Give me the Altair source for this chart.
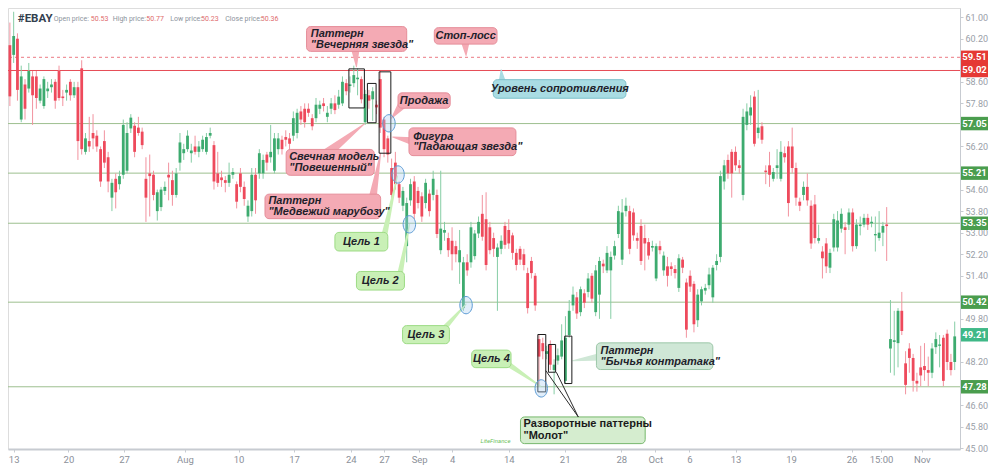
import json
import altair as alt
import pandas as pd

# ---------------- candle data (index, open, high, low, close) ----------------
O = [59.96, 59.6, 60.2, 57.2, 58.5, 58.35, 58.8, 58.8, 57.9, 57.7,
     58.25, 58.4, 58.6, 59.0, 58.05, 58.2, 58.6, 58.1, 58.4, 59.1,
     56.0, 56.4, 56.7, 56.6, 56.1, 56.4, 55.8, 54.3, 55.0, 54.8,
     55.15, 55.3,
     56.87, 56.97, 56.9, 56.75, 55.0, 55.2, 55.15, 53.8,
     53.95, 54.55, 55.15, 54.95, 54.4, 55.6, 55.95, 56.1, 55.95, 56.2,
     56.0, 56.1, 56.0, 56.6, 56.25, 55.2, 55.05, 54.95, 54.85, 55.15,
     54.8, 55.2, 54.7, 53.6, 53.8,
     55.15, 55.2, 55.2, 55.9, 55.8,
     55.3, 56.1, 56.45, 56.55, 56.5, 56.6, 56.7, 57.5, 57.6, 57.6,
     57.25, 57.25, 57.6, 57.8, 57.3, 57.6, 57.8, 57.75, 57.8, 58.55,
     58.45, 58.55, 58.7, 58.7, 57.1, 58.1, 57.95, 57.75, 58.7, 57.2,
     56.5, 55.4, 55.6, 54.8, 54.0, 52.5, 54.2, 54.9, 54.55, 54.35,
     54.1, 54.45, 54.4, 54.4, 52.35, 53.0, 52.8, 52.7, 52.5, 51.9,
     50.2, 51.9, 51.9, 52.13, 52.97, 53.7, 53.5, 53.2, 52.8, 52.1,
     52.4, 53.25, 53.1, 52.9, 52.25, 52.4, 52.2, 51.5, 51.95, 51.4,
     49.05, 48.9, 48.5, 48.85, 47.9, 48.25, 48.4, 47.5, 49.2, 50.3,
     50.6, 50.05, 50.75, 50.8, 51.4, 50.05, 50.7, 51.85, 51.6, 51.6,
     52.15, 52.95, 52.0, 53.8, 53.8, 53.75, 52.8, 53.25, 52.8, 52.65,
     52.45, 51.3, 52.5, 51.6, 51.75, 51.75, 51.65, 50.95, 52.0, 51.15,
     51.4, 51.1, 49.75, 50.45, 50.85, 51.05, 50.6, 51.8, 52.1, 54.9,
     55.7, 56.0, 56.0, 55.5, 54.4, 57.0, 57.35, 58.05, 56.7, 56.95,
     55.3, 55.5, 55.0, 55.4, 55.0, 55.95, 56.2, 56.2, 55.4, 54.15,
     54.4, 54.7, 54.0, 54.05, 52.7, 52.3, 52.6, 51.7, 52.45, 52.45,
     53.15, 53.2, 53.3, 53.75, 52.5, 53.25, 53.3, 53.55, 53.35, 52.9,
     52.8, 53.0, 53.3, 48.7, 48.95, 48.9, 50.1, 48.15, 48.7, 48.35,
     47.5, 48.0, 48.05, 47.9, 47.8, 48.75, 48.8, 49.1, 49.25, 48.2, 48.2]

C = [58.06, 60.3, 58.3, 58.8, 57.6, 59.0, 58.1, 58.0, 58.35, 58.7,
     58.35, 58.5, 57.9, 58.0, 58.0, 58.3, 58.1, 58.4, 56.4, 56.1,
     56.5, 56.2, 56.5, 56.2, 54.9, 55.6, 54.9, 54.85, 54.5, 55.1,
     57.0, 56.7,
     57.27, 56.0, 56.7, 56.25, 54.3, 55.1, 54.4, 54.5,
     54.6, 54.7, 55.05, 54.4, 55.2, 56.35, 56.1, 56.6, 56.05, 56.0,
     56.2, 56.45, 56.55, 56.7, 54.9, 54.85, 54.95, 54.85, 55.15, 55.25,
     54.15, 54.7, 54.25, 54.0, 55.15,
     54.2, 55.95, 55.7, 55.6, 56.0,
     56.5, 56.5, 56.1, 56.45, 56.3, 57.25, 57.45, 57.2, 57.1, 57.45,
     56.95, 57.75, 57.75, 57.7, 57.45, 57.8, 57.55, 58.05, 58.6, 58.25,
     58.5, 58.85, 58.75, 57.95, 58.15, 57.9, 58.25, 57.65, 56.9, 56.1,
     55.9, 54.4, 54.8, 54.3, 54.55, 54.1, 54.8, 53.7, 54.1, 53.6,
     54.85, 53.8, 55.0, 52.95, 53.15, 53.1, 52.35, 52.2, 52.2, 52.35,
     51.9, 51.6, 53.2, 52.97, 53.4, 52.85, 51.8, 52.35, 52.4, 52.45,
     52.7, 52.55, 52.6, 52.25, 51.8, 52.0, 51.8, 50.2, 51.5, 50.3,
     48.4, 48.6, 48.6, 48.1, 48.1, 48.45, 49.0, 49.1, 50.1, 50.7,
     50.0, 50.9, 50.4, 51.3, 50.55, 51.6, 51.95, 51.75, 52.25, 52.1,
     52.5, 53.8, 53.75, 54.0, 52.4, 52.9, 52.7, 51.95, 52.6, 52.15,
     52.5, 52.5, 52.35, 52.15, 51.4, 51.65, 51.5, 52.05, 51.7, 49.4,
     51.0, 49.6, 50.7, 50.9, 50.95, 51.45, 51.7, 51.95, 55.1, 55.5,
     55.2, 55.2, 55.5, 55.4, 57.3, 57.5, 57.65, 56.3, 56.9, 56.45,
     55.25, 55.15, 55.25, 55.5, 56.0, 55.8, 54.1, 55.4, 54.3, 54.0,
     54.7, 54.2, 52.6, 52.8, 52.8, 52.05, 51.75, 52.25, 53.5, 53.45,
     53.7, 53.1, 53.75, 52.5, 53.3, 53.3, 53.55, 53.3, 53.4, 52.95,
     53.0, 53.25, 53.25, 49.05, 49.0, 50.1, 49.35, 47.35, 48.35, 47.5,
     47.4, 47.7, 47.9, 47.8, 48.7, 49.05, 48.85, 47.5, 48.2, 47.9, 49.15]

H = [60.8, 61.2, 60.4, 59.2, 58.7, 59.3, 59.0, 59.0, 58.5, 58.8,
     58.6, 58.7, 58.7, 59.2, 58.3, 58.5, 58.7, 58.6, 58.6, 59.4,
     56.7, 57.3, 57.4, 56.8, 56.2, 56.8, 56.0, 55.0, 55.2, 55.3,
     57.2, 57.1,
     57.4, 57.1, 57.3, 56.9, 55.8, 55.9, 55.3, 54.6,
     54.7, 54.9, 55.6, 55.3, 55.4, 56.7, 56.3, 56.8, 56.3, 56.6,
     56.4, 56.6, 56.7, 56.9, 56.4, 56.0, 55.3, 55.1, 55.6, 55.4,
     54.9, 55.4, 54.9, 54.2, 55.4,
     55.4, 56.1, 55.9, 56.0, 57.0,
     56.7, 56.7, 56.6, 56.8, 56.7, 57.5, 57.6, 57.7, 57.8, 57.8,
     57.4, 58.0, 57.9, 58.0, 57.7, 58.0, 58.1, 58.3, 58.8, 58.7,
     58.8, 59.2, 59.1, 58.8, 58.3, 58.3, 58.4, 57.9, 59.0, 57.3,
     56.6, 55.75, 56.0, 54.9, 54.7, 54.3, 55.0, 55.1, 54.7, 54.5,
     55.0, 54.6, 55.3, 54.6, 55.3, 53.4, 53.0, 53.2, 52.7, 53.1,
     52.1, 52.2, 53.4, 53.1, 53.6, 54.4, 54.5, 53.4, 53.0, 52.6,
     52.9, 53.4, 53.5, 53.0, 52.4, 52.5, 52.4, 51.7, 52.1, 51.5,
     49.2, 49.1, 48.8, 49.0, 48.3, 48.7, 49.6, 49.9, 50.5, 51.0,
     50.8, 51.0, 50.9, 51.5, 51.5, 51.8, 52.1, 52.0, 52.5, 52.3,
     52.7, 54.0, 54.25, 54.3, 54.0, 53.9, 53.0, 53.5, 53.3, 52.8,
     52.7, 52.6, 52.7, 52.3, 52.1, 51.9, 51.8, 52.2, 52.1, 51.3,
     51.6, 51.2, 50.9, 51.0, 51.1, 51.7, 51.8, 52.2, 55.3, 55.7,
     55.9, 56.1, 56.2, 55.7, 57.6, 57.8, 58.1, 58.25, 58.3, 57.1,
     55.5, 56.0, 55.4, 56.1, 56.4, 56.2, 56.4, 56.9, 55.6, 54.3,
     54.9, 55.2, 54.2, 54.4, 53.3, 52.5, 52.8, 52.4, 53.7, 53.8,
     53.9, 53.4, 53.9, 53.9, 53.5, 53.6, 53.7, 53.7, 53.6, 53.6,
     53.8, 53.4, 53.95, 50.5, 50.1, 50.2, 50.8, 48.6, 48.9, 48.5,
     47.8, 48.8, 48.9, 48.4, 48.9, 49.3, 49.2, 49.2, 49.4, 48.5, 49.7]

L = [57.7, 59.3, 57.9, 57.1, 57.2, 58.2, 57.0, 57.6, 57.8, 57.6,
     58.0, 58.2, 57.6, 57.9, 57.7, 57.9, 57.9, 58.0, 55.7, 55.9,
     55.9, 56.0, 56.1, 56.0, 54.7, 55.4, 54.5, 53.8, 53.9, 54.6,
     55.0, 55.2,
     56.7, 55.8, 56.6, 56.1, 53.4, 53.6, 54.2, 53.45,
     53.8, 54.4, 54.2, 54.0, 54.3, 55.3, 55.7, 56.0, 55.6, 55.9,
     55.8, 56.0, 55.9, 56.5, 54.6, 54.7, 54.7, 54.5, 54.7, 55.0,
     53.9, 54.5, 54.0, 53.4, 53.6,
     53.7, 55.0, 55.0, 55.3, 55.6,
     55.2, 55.9, 55.9, 56.2, 56.1, 56.4, 56.5, 57.0, 56.9, 57.3,
     56.8, 57.1, 57.4, 57.5, 57.1, 57.4, 57.4, 57.6, 57.7, 58.1,
     58.2, 58.4, 58.1, 57.8, 57.0, 57.6, 57.15, 57.4, 56.7, 55.8,
     55.6, 54.2, 54.6, 54.1, 53.8, 51.9, 54.0, 53.5, 53.9, 53.4,
     53.9, 53.6, 54.2, 52.8, 52.2, 52.7, 52.1, 51.6, 51.9, 51.1,
     50.1, 51.4, 51.7, 52.0, 52.8, 52.7, 51.6, 52.2, 52.1, 50.1,
     52.2, 52.4, 52.4, 52.0, 51.6, 51.8, 51.6, 50.0, 51.3, 50.1,
     47.3, 48.3, 48.3, 47.9, 47.0, 48.1, 48.3, 47.4, 49.1, 50.1,
     49.8, 49.9, 50.2, 50.6, 50.4, 49.9, 49.8, 51.5, 51.5, 49.8,
     52.0, 52.8, 51.8, 53.6, 52.2, 52.7, 52.4, 51.8, 51.6, 52.0,
     52.3, 51.2, 52.2, 51.4, 51.0, 51.4, 51.3, 50.8, 51.5, 49.1,
     50.8, 49.3, 49.5, 50.3, 50.7, 50.9, 50.4, 51.6, 51.9, 54.6,
     55.0, 54.3, 55.3, 55.2, 54.2, 56.8, 57.0, 56.2, 56.5, 56.3,
     54.8, 54.7, 54.9, 55.0, 54.9, 55.6, 53.6, 55.2, 54.0, 53.8,
     54.2, 54.0, 52.4, 52.6, 52.6, 51.3, 51.5, 51.5, 52.3, 52.3,
     53.0, 52.2, 53.1, 52.3, 52.4, 52.9, 53.2, 53.1, 53.2, 52.3,
     52.7, 52.5, 51.95, 47.8, 47.7, 48.0, 49.2, 47.0, 47.8, 47.1,
     47.1, 47.3, 47.5, 47.3, 47.6, 48.5, 48.0, 47.3, 47.9, 47.7, 47.9]

assert len(O) == len(C) == len(H) == len(L), (len(O), len(C), len(H), len(L))

# ---------------- axes ----------------
TICK_POS = [1.0, 15.5, 30.2, 46.3, 60.5, 75.2, 90.2, 99.0, 108.3, 117.0,
            132.0, 146.8, 161.8, 170.8, 179.8, 192.0, 206.7, 222.7, 230.5, 241.3]
TICK_LAB = ["13", "20", "27", "Aug", "10", "17", "24", "27", "Sep", "4",
            "14", "21", "28", "Oct", "6", "13", "19", "26", "15:00", "Nov"]
# price labels on the right axis (those hidden behind the level tags are left out)
Y_TICKS = [45.0, 45.8, 46.6, 48.2, 49.8, 51.4, 52.2, 53.0, 53.8, 54.6,
           56.2, 57.8, 58.6, 60.2, 61.0]

# ---------------- levels / tags ----------------
LEVEL_GREEN = [57.05, 55.21, 53.35, 50.42, 47.28]
LEVEL_RED = 59.02
LEVEL_STOP = 59.51
TAG_VALUES = [59.51, 59.02, 57.05, 55.21, 53.35, 50.42, 49.21, 47.28]
TAG_COLORS = ["#e53935", "#e53935", "#4a9d4e", "#4a9d4e", "#4a9d4e", "#4a9d4e", "#3fb887", "#4a9d4e"]

# ---------------- annotations (data coordinates: candle index, price) ----------------
PINK, PINK_B = "#f4aab4", "#e58d99"
BLUE, BLUE_B = "#a9dce3", "#7cc0cb"
LGREEN, LGREEN_B = "#c9f0b6", "#9ddb85"
GGREY, GGREY_B = "#cfe7d6", "#9cc7a8"
MGREEN, MGREEN_B = "#d5edcf", "#76b86c"

BOX_X1 = [78.5, 112.3, 127.9, 102.7, 105.6, 73.1, 67.5, 86.0, 91.7, 103.9, 122.2, 155.2, 135.1]
BOX_X2 = [105.0, 128.9, 163.0, 116.5, 133.9, 96.4, 98.1, 100.0, 104.4, 116.3, 132.6, 186.0, 168.1]
BOX_Y1 = [60.65, 60.61, 58.68, 58.19, 56.89, 56.09, 54.43, 53.01, 51.56, 49.55, 48.64, 48.91, 46.16]
BOX_Y2 = [59.73, 60.0, 57.99, 57.62, 55.86, 55.13, 53.52, 52.32, 50.87, 48.88, 47.99, 47.92, 45.17]
BOX_FILL = [PINK, PINK, BLUE, PINK, PINK, PINK, PINK, LGREEN, LGREEN, LGREEN, LGREEN, GGREY, MGREEN]
BOX_STROKE = [PINK_B, PINK_B, BLUE_B, PINK_B, PINK_B, PINK_B, PINK_B, LGREEN_B, LGREEN_B, LGREEN_B,
              LGREEN_B, GGREY_B, MGREEN_B]

PTR_BASE_X = [91.4, 120.5, 130.3, 103.8, 106.5, 84.0, 96.0, 99.0, 103.0, 114.0, 131.0, 156.5]
PTR_BASE_Y = [59.85, 60.1, 58.55, 57.75, 56.4, 55.95, 54.3, 52.85, 51.3, 49.3, 48.2, 48.4]
PTR_TIP_X = [91.7, 120.7, 130.0, 101.0, 101.3, 93.8, 98.1, 102.5, 105.7, 120.7, 140.4, 148.9]
PTR_TIP_Y = [59.16, 59.58, 59.05, 57.25, 56.55, 57.04, 55.95, 55.1, 53.3, 50.35, 47.3, 48.25]
PTR_W = [9, 9, 8, 9, 8, 10, 8, 6, 6, 6, 6, 8]
PTR_COL = [PINK, PINK, BLUE, PINK, PINK, PINK, PINK, LGREEN, LGREEN, LGREEN, LGREEN, GGREY]

FRAME_X1 = [89.7, 94.6, 97.7, 139.7, 142.5, 146.8]
FRAME_X2 = [93.8, 96.9, 100.8, 141.8, 144.4, 148.7]
FRAME_Y1 = [59.08, 58.54, 58.97, 49.22, 48.85, 49.16]
FRAME_Y2 = [57.63, 57.08, 55.95, 47.09, 47.82, 47.40]

CIRCLE_X = [100.3, 102.7, 105.7, 120.7, 140.6]
CIRCLE_Y = [57.06, 55.16, 53.31, 50.31, 47.22]

LEADER_X1 = [150.4, 150.4]
LEADER_Y1 = [46.16, 46.16]
LEADER_X2 = [141.8, 144.6]
LEADER_Y2 = [47.88, 47.82]

NOTE_TEXT = ["Паттерн", "\"Вечерняя звезда\"", "Фигура", "\"Падающая звезда\"",
             "Свечная модель", "\"Повешенный\"", "Паттерн", "\"Медвежий марубозу\"",
             "Паттерн", "\"Бычья контратака\""]
NOTE_X = [79.6, 79.6, 106.7, 106.7, 73.9, 73.9, 68.4, 68.4, 156.3, 156.3]
NOTE_Y = [60.37, 59.98, 56.57, 56.18, 55.8, 55.41, 54.17, 53.78, 48.6, 48.21]

CNOTE_TEXT = ["Стоп-лосс", "Уровень сопротивления", "Продажа", "Цель 1", "Цель 2", "Цель 3", "Цель 4"]
CNOTE_X = [120.6, 145.5, 109.6, 93.0, 98.0, 110.1, 127.4]
CNOTE_Y = [60.31, 58.34, 57.9, 52.66, 51.22, 49.21, 48.31]

MOLOT_TEXT = ["Разворотные паттерны", "\"Молот\""]
MOLOT_X = [135.9, 135.9]
MOLOT_Y = [45.89, 45.44]

HEAD_TEXT = ["Open price:", "50.53", "High price:", "50.77", "Low price:", "50.23", "Close price:", "50.36"]
HEAD_X = [11.6, 21.4, 27.2, 36.1, 42.4, 50.6, 57.0, 66.4]
HEAD_COL = ["#8c939d", "#e06c6c"] * 4
HEAD_Y = 60.94

# ---------------- chart ----------------
W, HT = 952, 441
GREEN, RED = "#3dab6f", "#ee4a5c"
GREEN_W, RED_W = "#86cda5", "#f2939f"

xs = alt.Scale(domain=[-0.5, 251.4], nice=False, zero=False)
ys = alt.Scale(domain=[44.97, 61.34], nice=False, zero=False)

label_expr = "{}[indexof({}, datum.value)]".format(json.dumps(TICK_LAB, ensure_ascii=False),
                                                    json.dumps(TICK_POS))
xaxis = alt.Axis(values=TICK_POS, labelExpr=label_expr, grid=False, title=None,
                 labelColor="#8b9099", labelFontSize=9.5, labelFont="Roboto",
                 domainColor="#c7cbd1", domainWidth=2, tickColor="#c7cbd1", tickSize=3,
                 labelPadding=2, labelFlush=False, labelOverlap=False)
yaxis = alt.Axis(values=Y_TICKS, format=".2f", orient="right", grid=False, title=None,
                 labelColor="#9aa0a8", labelFontSize=9, labelFont="Roboto",
                 domainColor="#c7cbd1", domainWidth=1, tickColor="#c7cbd1", tickSize=3,
                 labelPadding=2, labelOverlap=False)


def X(f):
    return alt.X(f, type="quantitative", scale=xs, axis=xaxis, title=None)


def Y(f):
    return alt.Y(f, type="quantitative", scale=ys, axis=yaxis, title=None)


df = pd.DataFrame({"i": list(range(len(C))), "o": O, "h": H, "l": L, "c": C})
up = "datum.c >= datum.o"

wicks = alt.Chart(df).mark_rule(strokeWidth=1).encode(
    x=X("i"), y=Y("l"), y2="h:Q",
    color=alt.condition(up, alt.value(GREEN_W), alt.value(RED_W)))

bodies = alt.Chart(df).transform_calculate(
    top="abs(datum.o - datum.c) < 0.05 ? (datum.o + datum.c) / 2 + 0.03 : max(datum.o, datum.c)",
    bot="abs(datum.o - datum.c) < 0.05 ? (datum.o + datum.c) / 2 - 0.03 : min(datum.o, datum.c)",
).mark_rule(strokeWidth=2.8, strokeCap="butt").encode(
    x=X("i"), y=Y("bot"), y2="top:Q",
    color=alt.condition(up, alt.value(GREEN), alt.value(RED)))

lv = pd.DataFrame({"p": LEVEL_GREEN})
green_lines = alt.Chart(lv).mark_rule(color="#9dbf8f", strokeWidth=1).encode(y=Y("p"))
red_line = alt.Chart(pd.DataFrame({"p": [LEVEL_RED]})).mark_rule(color="#e64c57", strokeWidth=1).encode(y=Y("p"))
stop_line = alt.Chart(pd.DataFrame({"p": [LEVEL_STOP]})).mark_rule(
    color="#ec7a84", strokeWidth=1, strokeDash=[3, 3]).encode(y=Y("p"))

tags = pd.DataFrame({"p": TAG_VALUES, "col": TAG_COLORS})
tags["t"] = tags["p"].map(lambda v: f"{v:.2f}")
tag_rect = alt.Chart(tags).transform_calculate(
    a="datum.p + 0.25", b="datum.p - 0.25").mark_rect().encode(
    x=alt.value(W + 1), x2=alt.value(W + 28), y=Y("a"), y2="b:Q",
    color=alt.Color("col:N", scale=None))
tag_text = alt.Chart(tags).mark_text(color="white", fontSize=9.5, fontWeight="bold",
                                     font="Roboto", align="center", baseline="middle").encode(
    x=alt.value(W + 14.5), y=Y("p"), text="t:N")

# pointers (tapered trails)
prow = []
for k in range(len(PTR_W)):
    prow.append({"id": k, "k": 0, "x": PTR_BASE_X[k], "y": PTR_BASE_Y[k], "w": PTR_W[k], "col": PTR_COL[k]})
    prow.append({"id": k, "k": 1, "x": PTR_TIP_X[k], "y": PTR_TIP_Y[k], "w": 1, "col": PTR_COL[k]})
pointers = alt.Chart(pd.DataFrame(prow)).mark_trail().encode(
    x=X("x"), y=Y("y"), size=alt.Size("w:Q", scale=None, legend=None),
    color=alt.Color("col:N", scale=None), detail="id:N", order="k:Q")

boxes_df = pd.DataFrame({"x1": BOX_X1, "x2": BOX_X2, "y1": BOX_Y1, "y2": BOX_Y2,
                         "f": BOX_FILL, "s": BOX_STROKE})
boxes = alt.Chart(boxes_df).mark_rect(cornerRadius=4, strokeWidth=1).encode(
    x=X("x1"), x2="x2:Q", y=Y("y1"), y2="y2:Q",
    fill=alt.Fill("f:N", scale=None), stroke=alt.Stroke("s:N", scale=None))

frames = alt.Chart(pd.DataFrame({"x1": FRAME_X1, "x2": FRAME_X2, "y1": FRAME_Y1, "y2": FRAME_Y2})).mark_rect(
    fillOpacity=0, stroke="#1b1b1b", strokeWidth=1).encode(
    x=X("x1"), x2="x2:Q", y=Y("y1"), y2="y2:Q")

ellipse = "M -0.72 0 A 0.72 1 0 1 0 0.72 0 A 0.72 1 0 1 0 -0.72 0 Z"
circles = alt.Chart(pd.DataFrame({"x": CIRCLE_X, "y": CIRCLE_Y})).mark_point(
    shape=ellipse, size=300, filled=True, fill="#a9cdf2", fillOpacity=0.35,
    stroke="#5b9bd5", strokeWidth=1, opacity=1).encode(x=X("x"), y=Y("y"))

leaders = alt.Chart(pd.DataFrame({"x1": LEADER_X1, "y1": LEADER_Y1, "x2": LEADER_X2, "y2": LEADER_Y2})).mark_rule(
    color="#2b2b2b", strokeWidth=1).encode(x=X("x1"), y=Y("y1"), x2="x2:Q", y2="y2:Q")

notes = alt.Chart(pd.DataFrame({"x": NOTE_X, "y": NOTE_Y, "t": NOTE_TEXT})).mark_text(
    align="left", baseline="middle", fontSize=11, fontStyle="italic", fontWeight="bold",
    font="Liberation Sans", color="#1f1f2b").encode(x=X("x"), y=Y("y"), text="t:N")

cnotes = alt.Chart(pd.DataFrame({"x": CNOTE_X, "y": CNOTE_Y, "t": CNOTE_TEXT})).mark_text(
    align="center", baseline="middle", fontSize=11, fontStyle="italic", fontWeight="bold",
    font="Liberation Sans", color="#1f1f2b").encode(x=X("x"), y=Y("y"), text="t:N")

molot = alt.Chart(pd.DataFrame({"x": MOLOT_X, "y": MOLOT_Y, "t": MOLOT_TEXT})).mark_text(
    align="left", baseline="middle", fontSize=11, fontWeight="bold",
    font="Liberation Sans Narrow, Liberation Sans", color="#1a1a1a").encode(x=X("x"), y=Y("y"), text="t:N")

ticker = alt.Chart(pd.DataFrame({"x": [2.1], "y": [HEAD_Y], "t": ["#EBAY"]})).mark_text(
    align="left", baseline="middle", fontSize=11.5, fontWeight="bold", font="Roboto",
    color="#33404f").encode(x=X("x"), y=Y("y"), text="t:N")

header = alt.Chart(pd.DataFrame({"x": HEAD_X, "y": [HEAD_Y] * len(HEAD_X), "t": HEAD_TEXT, "col": HEAD_COL})).mark_text(
    align="left", baseline="middle", fontSize=7, font="Roboto").encode(
    x=X("x"), y=Y("y"), text="t:N", color=alt.Color("col:N", scale=None))

logo = alt.Chart(pd.DataFrame({"x": [128.5], "y": [45.25], "t": ["LiteFinance"]})).mark_text(
    align="center", baseline="middle", fontSize=6, fontStyle="italic", font="Roboto",
    color="#6cbf5a").encode(x=X("x"), y=Y("y"), text="t:N")

chart = alt.layer(
    green_lines, red_line, stop_line,
    wicks, bodies,
    pointers, boxes, frames, circles, leaders,
    notes, cnotes, molot, ticker, header, logo,
    tag_rect, tag_text,
).properties(
    width=W, height=HT,
    autosize=alt.AutoSizeParams(type="none"),
    padding={"left": 0, "top": 0, "right": 32, "bottom": 16},
).configure_view(stroke=None).configure(background="white")

chart.save("out.html", embed_options={"renderer": "svg", "actions": False})
